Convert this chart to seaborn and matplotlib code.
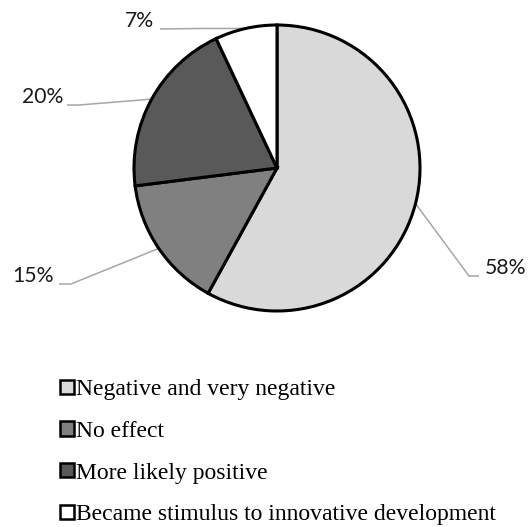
import numpy as np
import matplotlib
matplotlib.use("Agg")
import matplotlib.pyplot as plt
from matplotlib.patches import Rectangle
import seaborn as sns

categories = ["Negative and very negative", "No effect", "More likely positive",
              "Became stimulus to innovative development"]
values = [58, 15, 20, 7]
pct_labels = [f"{v}%" for v in values]
colors = ["#d9d9d9", "#808080", "#595959", "#ffffff"]

sns.set_theme(style="white")
plt.rcParams["font.family"] = ["Lato", "DejaVu Sans"]

W, H = 528, 527
fig = plt.figure(figsize=(W / 100, H / 100), dpi=100)
ax = fig.add_axes([0, 0, 1, 1])

cx, cy, R = 277.0, 168.0, 143.0  # pie centre / radius in pixels
wedges, _ = ax.pie(values, colors=colors, startangle=90, counterclock=False,
                   wedgeprops=dict(edgecolor="black", linewidth=2.2))
ax.set_xlim(-cx / R, (W - cx) / R)
ax.set_ylim(-(H - cy) / R, cy / R)
ax.set_aspect("auto")


def px(x, y):
    return (x - cx) / R, (cy - y) / R


# label layout: (elbow pixel, end pixel, text anchor pixel, ha)
layout = [
    ((469, 276), (479, 276), (485, 268), "left"),
    ((71, 284), (59, 284), (54, 276), "right"),
    ((79, 105), (67, 105), (63, 97), "right"),
    ((200, 28.5), (160, 29), (154, 21), "right"),
]
lead_color = "#a6a6a6"
for w, lab, (elb, end, txt, ha) in zip(wedges, pct_labels, layout):
    mid = np.deg2rad((w.theta1 + w.theta2) / 2)
    p0 = (np.cos(mid), np.sin(mid))
    e = px(*elb)
    f = px(*end)
    ax.plot([p0[0], e[0], f[0]], [p0[1], e[1], f[1]], color=lead_color, lw=1.1,
            solid_capstyle="butt", zorder=0.5)
    t = px(*txt)
    ax.text(t[0], t[1], lab, ha=ha, va="center", fontsize=15.2, color="#1a1a1a",
            family=["Lato", "DejaVu Sans"])

handles = [Rectangle((0, 0), 1, 1, facecolor=c, edgecolor="black", linewidth=1.8)
           for c in colors]
leg = fig.legend(handles, categories, loc="upper left",
                 bbox_to_anchor=(60 / W, 1 - 379 / H), frameon=False,
                 borderpad=0, borderaxespad=0, handlelength=0.58, handleheight=0.55,
                 handletextpad=0.1, labelspacing=0.88,
                 prop=dict(family=["Liberation Serif", "DejaVu Serif"], size=17))
for t in leg.get_texts():
    t.set_color("black")

fig.savefig("out.png", dpi=100)
